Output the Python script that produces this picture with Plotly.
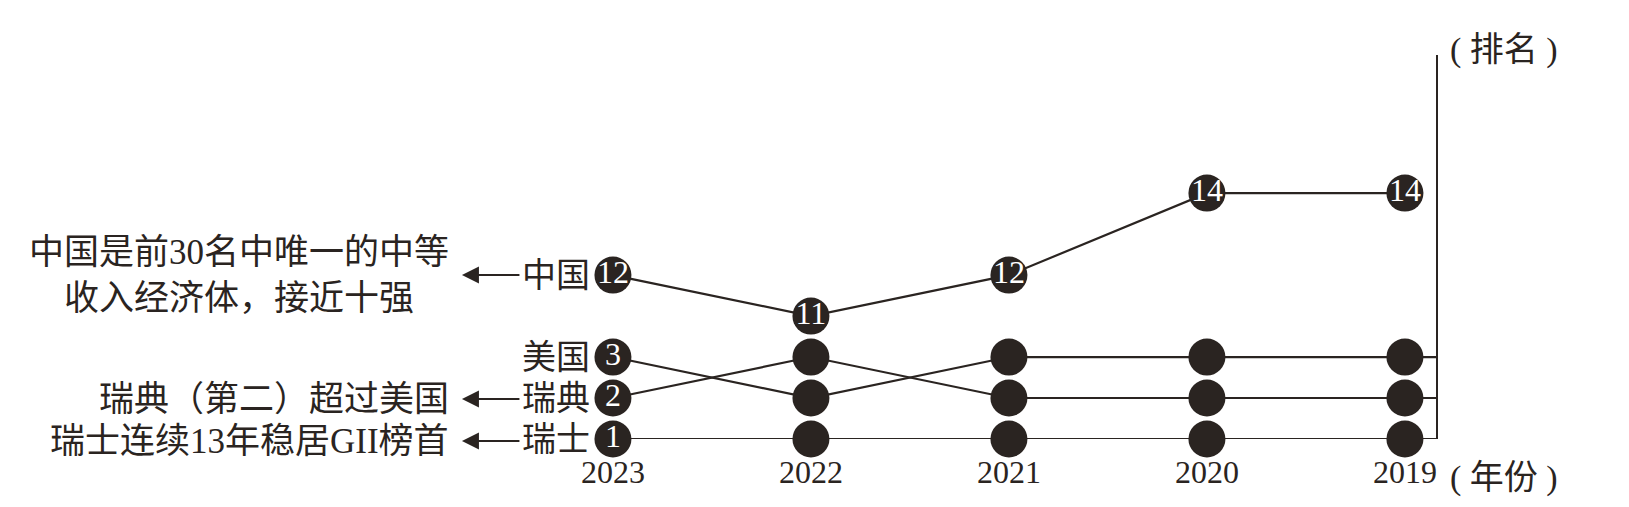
import plotly.graph_objects as go

# ---- data ----
years = [2023, 2022, 2021, 2020, 2019]
year_text = ["2023", "2022", "2021", "2020", "2019"]
rank_levels = ["1", "2", "3", "11", "12", "13", "14"]   # schematic (broken) rank axis

countries = ["中国", "美国", "瑞典", "瑞士"]
china_rank = ["12", "11", "12", "14", "14"]
usa_rank = ["3", "2", "3", "3", "3"]
sweden_rank = ["2", "3", "2", "2", "2"]
swiss_rank = ["1", "1", "1", "1", "1"]

china_text = ["12", "11", "12", "14", "14"]
usa_text = ["3", "", "", "", ""]
sweden_text = ["2", "", "", "", ""]
swiss_text = ["1", "", "", "", ""]

note_china = "中国是前30名中唯一的中等<br>收入经济体，接近十强"
note_sweden = "瑞典（第二）超过美国"
note_swiss = "瑞士连续13年稳居GII榜首"

# ---- style ----
INK = "#2a2421"
SERIF = "Liberation Serif, Noto Sans CJK SC"
X_LEFT, X_RIGHT = 2023.227, 2018.843

series = [
    (countries[0], china_rank, china_text, False),
    (countries[1], usa_rank, usa_text, True),
    (countries[2], sweden_rank, sweden_text, True),
    (countries[3], swiss_rank, swiss_text, True),
]


def level(r):
    return rank_levels.index(r)


fig = go.Figure()

# lines first
for name, ranks, _, to_axis in series:
    xs = list(years) + ([X_RIGHT] if to_axis else [])
    ys = list(ranks) + ([ranks[-1]] if to_axis else [])
    fig.add_trace(go.Scatter(
        x=xs, y=ys, mode="lines", line=dict(color=INK, width=2.2),
        cliponaxis=False, showlegend=False, hoverinfo="skip"))

# markers on top
for name, ranks, txt, _ in series:
    fig.add_trace(go.Scatter(
        x=years, y=ranks, mode="markers+text", text=txt,
        textposition="middle center",
        textfont=dict(family=SERIF, size=32, color="white"),
        marker=dict(size=37, color=INK, line=dict(width=0)),
        cliponaxis=False, showlegend=False, name=name))

annotations = []
# country labels left of the 2023 circles
for name, ranks, _, _ in series:
    annotations.append(dict(
        x=years[0], y=level(ranks[0]), xref="x", yref="y", text=name,
        showarrow=False, xanchor="right", yanchor="middle", xshift=-21,
        font=dict(family=SERIF, size=34, color=INK)))

# arrows and notes
for ranks, note, ys in [(china_rank, note_china, 0), (sweden_rank, note_sweden, -1),
                        (swiss_rank, note_swiss, -2)]:
    annotations.append(dict(
        x=years[0], y=level(ranks[0]), xref="x", yref="y", text="",
        showarrow=True, ax=59, ay=0, axref="pixel", ayref="pixel",
        xshift=-151, yshift=ys, arrowhead=2, arrowsize=1.7, arrowwidth=2,
        arrowcolor=INK))
    annotations.append(dict(
        x=years[0], y=level(ranks[0]), xref="x", yref="y", text=note,
        showarrow=False, xanchor="right", yanchor="middle", align="center",
        xshift=-162, yshift=ys, font=dict(family=SERIF, size=35, color=INK)))

# axis titles
annotations.append(dict(
    x=X_RIGHT, y=1, xref="x", yref="paper", text="( 排名 )", showarrow=False,
    xanchor="left", yanchor="middle", xshift=12, yshift=5,
    font=dict(family=SERIF, size=34, color=INK)))
annotations.append(dict(
    x=X_RIGHT, y=0, xref="x", yref="paper", text="( 年份 )", showarrow=False,
    xanchor="left", yanchor="middle", xshift=12, yshift=-39,
    font=dict(family=SERIF, size=34, color=INK)))

fig.update_layout(
    width=1629, height=507,
    margin=dict(l=560, r=201, t=47, b=76),
    paper_bgcolor="white", plot_bgcolor="white",
    showlegend=False,
    annotations=annotations,
    xaxis=dict(
        range=[X_LEFT, X_RIGHT], tickvals=years, ticktext=year_text,
        showgrid=False, zeroline=False, showline=False, ticks="",
        tickfont=dict(family=SERIF, size=32, color=INK),
        ticklabelstandoff=11, fixedrange=True),
    yaxis=dict(
        type="category", categoryorder="array", categoryarray=rank_levels,
        range=[0, 9.37], side="right", showline=True, linecolor=INK,
        linewidth=2, showgrid=False, zeroline=False, showticklabels=False,
        ticks="", fixedrange=True),
)

fig.write_html("out.html")
